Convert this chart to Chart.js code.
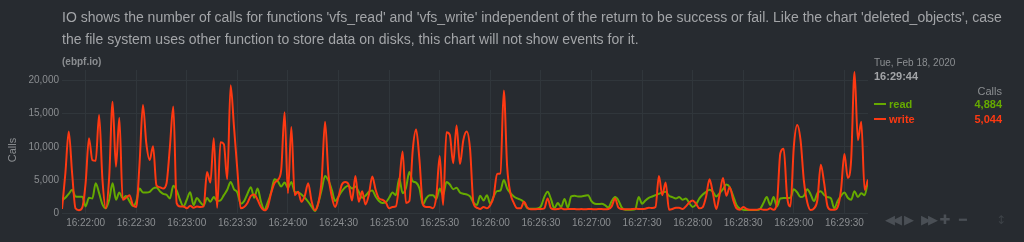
<!DOCTYPE html>
<html>
<head>
<meta charset="utf-8">
<script src="https://cdn.jsdelivr.net/npm/chart.js@4.4.1/dist/chart.umd.min.js"></script>
<style>
  html, body { margin: 0; padding: 0; background: #272b30; }
  body { width: 1024px; height: 242px; overflow: hidden; position: relative; font-family: 'Liberation Sans', Arial, sans-serif; }
  #chart { position: absolute; left: 0; top: 0; }
  .t { position: absolute; white-space: nowrap; line-height: 14px; }
  #desc { left: 62px; top: 6px; font-size: 14px; line-height: 22px; color: #a3a5a8; }
  #src { left: 62px; top: 55px; font-size: 10px; font-weight: bold; color: #8b8e91; }
  #ytitle { left: 12px; top: 150px; font-size: 11px; color: #8b8e91; transform: translate(-50%, -50%) rotate(-90deg); }
  #date { left: 874px; top: 56px; font-size: 10px; color: #8b8e91; }
  #time { left: 874px; top: 69px; font-size: 11px; font-weight: bold; color: #a3a5a8; }
  #unit { right: 22px; top: 84px; font-size: 11px; color: #8b8e91; }
  .lg { left: 874px; font-size: 11px; font-weight: bold; }
  .lg i { display: inline-block; width: 12px; height: 2px; vertical-align: middle; margin-right: 3px; margin-top: -2px; }
  .val { right: 22px; font-size: 11px; font-weight: bold; }
  .ic { position: absolute; top: 212px; font-family: 'DejaVu Sans', sans-serif; font-size: 13px; line-height: 16px; color: #4a4f55; transform: translateX(-50%); white-space: nowrap; }
  #grip { color: #3d4247; font-size: 12px; }
</style>
</head>
<body>
<canvas id="chart" width="1024" height="242"></canvas>
<div class="t" id="desc">IO shows the number of calls for functions 'vfs_read' and 'vfs_write' independent of the return to be success or fail. Like the chart 'deleted_objects', case<br>the file system uses other function to store data on disks, this chart will not show events for it.</div>
<div class="t" id="src">(ebpf.io)</div>
<div class="t" id="ytitle">Calls</div>
<div class="t" id="date">Tue, Feb 18, 2020</div>
<div class="t" id="time"></div>
<div class="t" id="unit">Calls</div>
<div class="t lg" style="top:97px;color:#66AA00"><i style="background:#66AA00"></i>read</div>
<div class="t val" id="val-read" style="top:97px;color:#66AA00"></div>
<div class="t lg" style="top:112px;color:#FE3912"><i style="background:#FE3912"></i>write</div>
<div class="t val" id="val-write" style="top:112px;color:#FE3912"></div>
<div class="ic" style="left:892px;letter-spacing:-3px">◀◀</div>
<div class="ic" style="left:909px">▶</div>
<div class="ic" style="left:928px;letter-spacing:-3px">▶▶</div>
<div class="ic" style="left:945px">✚</div>
<div class="ic" style="left:963px">━</div>
<div class="ic" id="grip" style="left:1001px">↕</div>
<script>
// one point every 2 seconds, 16:21:46 .. 16:29:44
const startSec = 16 * 3600 + 21 * 60 + 46
const stepSec = 2

const readCalls = [
  1900, 2300, 2900, 3500, 2500, 2450, 2450, 1000, 2300, 2200,
  4500, 3000, 1300, 700, 2000, 4500, 2000, 3100, 2200, 2550,
  1800, 1050, 1700, 3700, 3100, 3100, 3200, 3700, 3850, 3300,
  2900, 2750, 2200, 4100, 3400, 2000, 1000, 2000, 3150, 1200,
  2250, 1650, 1150, 2250, 1700, 2400, 1800, 1900, 2700, 3500,
  4700, 3600, 3100, 1400, 1800, 2900, 3900, 2300, 3700, 1700,
  500, 1600, 3100, 5100, 4800, 4000, 4600, 3800, 4700, 3200,
  3100, 2800, 2300, 1700, 1000, 300, 1500, 3500, 5600, 4900,
  3500, 1800, 2500, 3300, 3900, 4100, 3700, 4000, 3200, 2300,
  2600, 3200, 3400, 2500, 1800, 1500, 1600, 2300, 3100, 2700,
  5200, 3000, 3800, 6200, 4800, 4600, 3700, 1300, 2200, 2700,
  2700, 2100, 3700, 2700, 4700, 4300, 3600, 3800, 3100, 2900,
  2800, 2500, 1600, 1200, 2600, 1900, 2700, 1400, 2500, 3300,
  3400, 5000, 3700, 3000, 2500, 2200, 2000, 1600, 700, 650,
  650, 700, 1000, 2400, 3200, 2100, 700, 1500, 900, 2100,
  800, 2500, 2600, 2500, 2500, 2600, 2700, 1800, 1400, 1350,
  1400, 1200, 800, 1800, 2400, 1900, 800, 500, 500, 500,
  600, 2400, 1400, 1900, 2300, 2500, 2700, 2900, 3100, 3200,
  2600, 2400, 2200, 2400, 2000, 2200, 1500, 900, 1300, 2200,
  2800, 3200, 3500, 3200, 2500, 3000, 3600, 4300, 3900, 2600,
  1200, 650, 500, 450, 450, 450, 450, 600, 1500, 2400,
  1200, 2400, 1000, 2200, 2250, 2250, 2300, 3600, 3100, 2400,
  2600, 3600, 2800, 1800, 3000, 3300, 2700, 2400, 2200, 700,
  1800, 2600, 3100, 2300, 2000, 3300, 2400, 3000, 2700, 4884
]

const writeCalls = [
  600, 6000, 12300, 6000, 700, 400, 800, 4500, 11300, 8000,
  7900, 14800, 5000, 700, 5500, 16800, 7000, 14400, 2000, 2300,
  2700, 1200, 900, 7500, 16300, 10500, 8000, 10100, 4200, 3900,
  3700, 4500, 10000, 16100, 1500, 1000, 1000, 700, 1100, 800,
  1000, 900, 1000, 6200, 4600, 11300, 800, 10700, 10400, 5100,
  19300, 13000, 6500, 700, 900, 1500, 2600, 2800, 2000, 900,
  400, 900, 3000, 4500, 5000, 6500, 15200, 3000, 13000, 2700,
  3200, 1700, 2600, 4500, 1800, 400, 1500, 5000, 13800, 5800,
  2500, 900, 2500, 4300, 4700, 4300, 1900, 5600, 1700, 3300,
  1300, 2800, 5500, 3500, 2200, 2000, 1600, 700, 900, 1000,
  4500, 9300, 1500, 1800, 9500, 12600, 8000, 1300, 900, 900,
  700, 2500, 8600, 1200, 12200, 11800, 7500, 13200, 7400, 11000,
  12300, 9700, 1500, 800, 600, 900, 700, 1200, 2500, 5900,
  6000, 18500, 7000, 2900, 1500, 700, 700, 1700, 800, 550,
  550, 600, 600, 700, 2200, 700, 550, 600, 700, 550,
  600, 600, 600, 550, 600, 550, 600, 600, 550, 600,
  600, 550, 600, 1000, 2200, 800, 600, 550, 550, 600,
  650, 600, 600, 650, 800, 750, 900, 5600, 2700, 4600,
  500, 600, 800, 800, 600, 1000, 1600, 1900, 1400, 700,
  900, 2500, 5100, 3000, 600, 2800, 5300, 2600, 3900, 2000,
  700, 500, 900, 600, 500, 500, 500, 600, 500, 500,
  700, 500, 1500, 9000, 9700, 2500, 1000, 10000, 13300, 11000,
  4800, 1600, 450, 700, 2000, 7300, 4500, 1000, 500, 500,
  900, 3500, 8900, 5300, 8000, 21300, 11000, 13800, 3500, 5044
]

const yTicks = [0, 5000, 10000, 15000, 20000]
const yMax = 21600
const xTickEvery = 30

const times = readCalls.map((_, i) => startSec + i * stepSec)
const pad = n => String(n).padStart(2, '0')
const fmtTime = s => pad(Math.floor(s / 3600)) + ':' + pad(Math.floor(s / 60) % 60) + ':' + pad(s % 60)
const fmtNum = v => v.toLocaleString('en-US')

const firstTick = Math.ceil(times[0] / xTickEvery) * xTickEvery
const xTicks = []
for (let s = firstTick; s <= times[times.length - 1]; s += xTickEvery) xTicks.push(s)

document.getElementById('time').textContent = fmtTime(times[times.length - 1])
document.getElementById('val-read').textContent = fmtNum(readCalls[readCalls.length - 1])
document.getElementById('val-write').textContent = fmtNum(writeCalls[writeCalls.length - 1])

const gridColor = '#30363b'
const tickColor = '#8b8e91'
const tickFont = { family: "'Liberation Sans', Arial, sans-serif", size: 10 }

new Chart(document.getElementById('chart'), {
  type: 'line',
  data: {
    datasets: [
      { label: 'read', data: times.map((t, i) => ({ x: t, y: readCalls[i] })), borderColor: '#66AA00', borderWidth: 2, pointRadius: 0, cubicInterpolationMode: 'monotone', order: 2 },
      { label: 'write', data: times.map((t, i) => ({ x: t, y: writeCalls[i] })), borderColor: '#FE3912', borderWidth: 2, pointRadius: 0, cubicInterpolationMode: 'monotone', order: 1 }
    ]
  },
  options: {
    responsive: false, animation: false, devicePixelRatio: 1,
    layout: { padding: { left: 0, top: 70, right: 156, bottom: 0 } },
    plugins: { legend: { display: false }, tooltip: { enabled: false } },
    scales: {
      x: {
        type: 'linear', min: times[0], max: times[times.length - 1],
        afterBuildTicks: s => { s.ticks = xTicks.map(v => ({ value: v })) },
        afterFit: s => { s.height = 29 },
        grid: { color: gridColor, drawTicks: false },
        border: { display: false },
        ticks: { color: tickColor, font: tickFont, padding: 4, maxRotation: 0, autoSkip: false, callback: v => fmtTime(v) }
      },
      y: {
        min: 0, max: yMax,
        afterBuildTicks: s => { s.ticks = yTicks.map(v => ({ value: v })) },
        afterFit: s => { s.width = 62 },
        grid: { color: gridColor, drawTicks: false },
        border: { display: false },
        ticks: { color: tickColor, font: tickFont, padding: 3, callback: v => fmtNum(v) }
      }
    }
  }
})
</script>
</body>
</html>
